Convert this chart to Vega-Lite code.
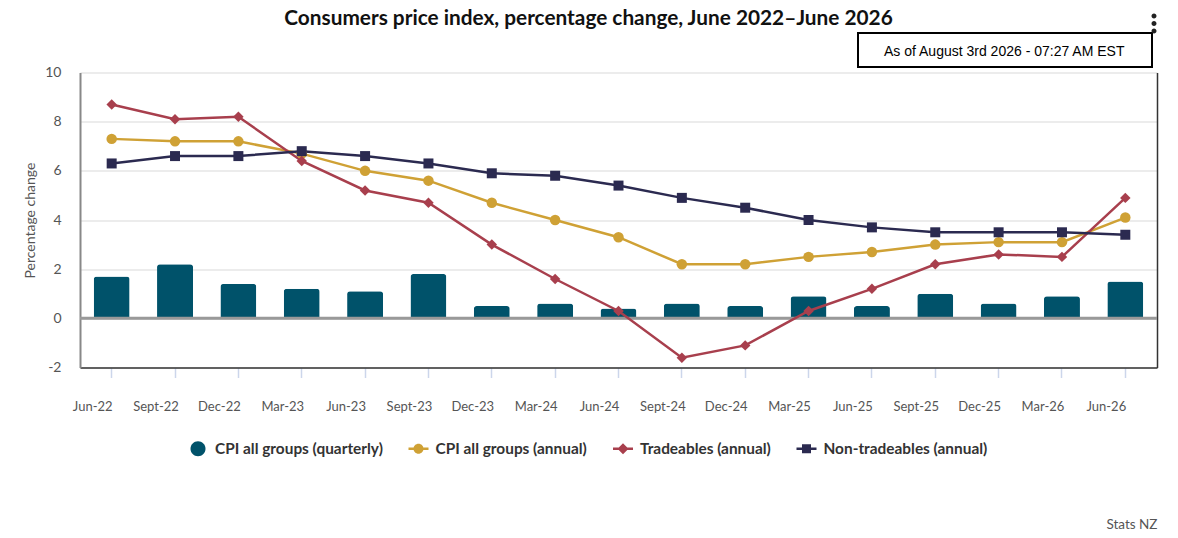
{
  "$schema": "https://vega.github.io/schema/vega-lite/v6.json",
  "width": 1077,
  "height": 295,
  "autosize": {"type": "none"},
  "padding": {"left": 80, "top": 72.5, "right": 21, "bottom": 170.5},
  "background": "white",
  "title": {
    "text": "Consumers price index, percentage change, June 2022–June 2026",
    "font": "Lato",
    "fontSize": 20.8,
    "fontWeight": "bold",
    "color": "#111111",
    "anchor": "middle",
    "frame": "group",
    "dx": -30,
    "offset": 0,
    "dy": 11
  },
  "config": {
    "view": {"stroke": null},
    "font": "Lato",
    "legend": {"strokeWidth": 2}
  },
  "datasets": {
    "cpi": [
      {"quarter": "Jun-22", "series": "CPI all groups (quarterly)", "value": 1.7},
      {"quarter": "Sept-22", "series": "CPI all groups (quarterly)", "value": 2.2},
      {"quarter": "Dec-22", "series": "CPI all groups (quarterly)", "value": 1.4},
      {"quarter": "Mar-23", "series": "CPI all groups (quarterly)", "value": 1.2},
      {"quarter": "Jun-23", "series": "CPI all groups (quarterly)", "value": 1.1},
      {"quarter": "Sept-23", "series": "CPI all groups (quarterly)", "value": 1.8},
      {"quarter": "Dec-23", "series": "CPI all groups (quarterly)", "value": 0.5},
      {"quarter": "Mar-24", "series": "CPI all groups (quarterly)", "value": 0.6},
      {"quarter": "Jun-24", "series": "CPI all groups (quarterly)", "value": 0.4},
      {"quarter": "Sept-24", "series": "CPI all groups (quarterly)", "value": 0.6},
      {"quarter": "Dec-24", "series": "CPI all groups (quarterly)", "value": 0.5},
      {"quarter": "Mar-25", "series": "CPI all groups (quarterly)", "value": 0.9},
      {"quarter": "Jun-25", "series": "CPI all groups (quarterly)", "value": 0.5},
      {"quarter": "Sept-25", "series": "CPI all groups (quarterly)", "value": 1.0},
      {"quarter": "Dec-25", "series": "CPI all groups (quarterly)", "value": 0.6},
      {"quarter": "Mar-26", "series": "CPI all groups (quarterly)", "value": 0.9},
      {"quarter": "Jun-26", "series": "CPI all groups (quarterly)", "value": 1.5},
      {"quarter": "Jun-22", "series": "CPI all groups (annual)", "value": 7.3},
      {"quarter": "Sept-22", "series": "CPI all groups (annual)", "value": 7.2},
      {"quarter": "Dec-22", "series": "CPI all groups (annual)", "value": 7.2},
      {"quarter": "Mar-23", "series": "CPI all groups (annual)", "value": 6.7},
      {"quarter": "Jun-23", "series": "CPI all groups (annual)", "value": 6.0},
      {"quarter": "Sept-23", "series": "CPI all groups (annual)", "value": 5.6},
      {"quarter": "Dec-23", "series": "CPI all groups (annual)", "value": 4.7},
      {"quarter": "Mar-24", "series": "CPI all groups (annual)", "value": 4.0},
      {"quarter": "Jun-24", "series": "CPI all groups (annual)", "value": 3.3},
      {"quarter": "Sept-24", "series": "CPI all groups (annual)", "value": 2.2},
      {"quarter": "Dec-24", "series": "CPI all groups (annual)", "value": 2.2},
      {"quarter": "Mar-25", "series": "CPI all groups (annual)", "value": 2.5},
      {"quarter": "Jun-25", "series": "CPI all groups (annual)", "value": 2.7},
      {"quarter": "Sept-25", "series": "CPI all groups (annual)", "value": 3.0},
      {"quarter": "Dec-25", "series": "CPI all groups (annual)", "value": 3.1},
      {"quarter": "Mar-26", "series": "CPI all groups (annual)", "value": 3.1},
      {"quarter": "Jun-26", "series": "CPI all groups (annual)", "value": 4.1},
      {"quarter": "Jun-22", "series": "Tradeables (annual)", "value": 8.7},
      {"quarter": "Sept-22", "series": "Tradeables (annual)", "value": 8.1},
      {"quarter": "Dec-22", "series": "Tradeables (annual)", "value": 8.2},
      {"quarter": "Mar-23", "series": "Tradeables (annual)", "value": 6.4},
      {"quarter": "Jun-23", "series": "Tradeables (annual)", "value": 5.2},
      {"quarter": "Sept-23", "series": "Tradeables (annual)", "value": 4.7},
      {"quarter": "Dec-23", "series": "Tradeables (annual)", "value": 3.0},
      {"quarter": "Mar-24", "series": "Tradeables (annual)", "value": 1.6},
      {"quarter": "Jun-24", "series": "Tradeables (annual)", "value": 0.3},
      {"quarter": "Sept-24", "series": "Tradeables (annual)", "value": -1.6},
      {"quarter": "Dec-24", "series": "Tradeables (annual)", "value": -1.1},
      {"quarter": "Mar-25", "series": "Tradeables (annual)", "value": 0.3},
      {"quarter": "Jun-25", "series": "Tradeables (annual)", "value": 1.2},
      {"quarter": "Sept-25", "series": "Tradeables (annual)", "value": 2.2},
      {"quarter": "Dec-25", "series": "Tradeables (annual)", "value": 2.6},
      {"quarter": "Mar-26", "series": "Tradeables (annual)", "value": 2.5},
      {"quarter": "Jun-26", "series": "Tradeables (annual)", "value": 4.9},
      {"quarter": "Jun-22", "series": "Non-tradeables (annual)", "value": 6.3},
      {"quarter": "Sept-22", "series": "Non-tradeables (annual)", "value": 6.6},
      {"quarter": "Dec-22", "series": "Non-tradeables (annual)", "value": 6.6},
      {"quarter": "Mar-23", "series": "Non-tradeables (annual)", "value": 6.8},
      {"quarter": "Jun-23", "series": "Non-tradeables (annual)", "value": 6.6},
      {"quarter": "Sept-23", "series": "Non-tradeables (annual)", "value": 6.3},
      {"quarter": "Dec-23", "series": "Non-tradeables (annual)", "value": 5.9},
      {"quarter": "Mar-24", "series": "Non-tradeables (annual)", "value": 5.8},
      {"quarter": "Jun-24", "series": "Non-tradeables (annual)", "value": 5.4},
      {"quarter": "Sept-24", "series": "Non-tradeables (annual)", "value": 4.9},
      {"quarter": "Dec-24", "series": "Non-tradeables (annual)", "value": 4.5},
      {"quarter": "Mar-25", "series": "Non-tradeables (annual)", "value": 4.0},
      {"quarter": "Jun-25", "series": "Non-tradeables (annual)", "value": 3.7},
      {"quarter": "Sept-25", "series": "Non-tradeables (annual)", "value": 3.5},
      {"quarter": "Dec-25", "series": "Non-tradeables (annual)", "value": 3.5},
      {"quarter": "Mar-26", "series": "Non-tradeables (annual)", "value": 3.5},
      {"quarter": "Jun-26", "series": "Non-tradeables (annual)", "value": 3.4}
    ]
  },
  "resolve": {"scale": {"y": "independent"}},
  "layer": [
    {
      "layer": [
        {
          "data": {"name": "cpi"},
          "transform": [{"filter": "datum.series === 'CPI all groups (quarterly)'"}],
          "mark": {"type": "bar", "width": 36, "cornerRadiusTopLeft": 3, "cornerRadiusTopRight": 3, "fill": "#00526A"},
          "encoding": {
            "x": {
              "field": "quarter",
              "type": "nominal",
              "sort": null,
              "scale": {"paddingInner": 0, "paddingOuter": 0},
              "axis": {
                "title": "Stats NZ",
                "titleX": 1077,
                "titleY": 150,
                "titleAlign": "right",
                "titleFont": "Lato",
                "titleFontSize": 13.5,
                "titleFontWeight": "normal",
                "titleColor": "#555555",
                "labelAngle": 0,
                "labelOffset": -19,
                "labelPadding": 23,
                "labelFont": "Lato",
                "labelFontSize": 13,
                "labelColor": "#555555",
                "tickColor": "#CCD6EB",
                "tickSize": 10,
                "tickWidth": 1.5,
                "domainColor": "#333333",
                "domainWidth": 1.5,
                "grid": false
              }
            },
            "y": {
              "field": "value",
              "type": "quantitative",
              "scale": {"domain": [-2, 10]},
              "axis": {
                "title": "Percentage change",
                "titleFont": "Lato",
                "titleFontSize": 14,
                "titleFontWeight": "normal",
                "titleColor": "#555555",
                "titlePadding": 7,
                "values": [-2, 0, 2, 4, 6, 8, 10],
                "labelExpr": "'' + datum.value",
                "labelFont": "Lato",
                "labelFontSize": 14,
                "labelColor": "#555555",
                "labelPadding": 19,
                "ticks": false,
                "domainColor": "#888888",
                "domainWidth": 2,
                "grid": true,
                "gridColor": "#E6E6E6",
                "gridWidth": 1.5
              }
            }
          }
        },
        {
          "data": {"values": [{}]},
          "mark": {"type": "rule", "color": "#999999", "strokeWidth": 3},
          "encoding": {"y": {"datum": 0, "type": "quantitative"}}
        },
        {
          "data": {"name": "cpi"},
          "transform": [{"filter": "datum.series !== 'CPI all groups (quarterly)'"}],
          "mark": {"type": "line", "strokeWidth": 2.5},
          "encoding": {
            "x": {"field": "quarter", "type": "nominal", "sort": null},
            "y": {"field": "value", "type": "quantitative"},
            "color": {
              "field": "series",
              "type": "nominal",
              "scale": {
                "domain": ["CPI all groups (annual)", "Tradeables (annual)", "Non-tradeables (annual)"],
                "range": ["#CFA135", "#A83F4D", "#2B2A50"]
              },
              "legend": null
            }
          }
        },
        {
          "data": {"name": "cpi"},
          "transform": [{"filter": "datum.series === 'CPI all groups (annual)'"}],
          "mark": {"type": "point", "shape": "circle", "filled": true, "opacity": 1, "size": 110},
          "encoding": {
            "x": {"field": "quarter", "type": "nominal", "sort": null},
            "y": {"field": "value", "type": "quantitative"},
            "color": {"field": "series", "type": "nominal", "legend": null}
          }
        },
        {
          "data": {"name": "cpi"},
          "transform": [{"filter": "datum.series === 'Tradeables (annual)'"}],
          "mark": {"type": "point", "shape": "diamond", "filled": true, "opacity": 1, "size": 110},
          "encoding": {
            "x": {"field": "quarter", "type": "nominal", "sort": null},
            "y": {"field": "value", "type": "quantitative"},
            "color": {"field": "series", "type": "nominal", "legend": null}
          }
        },
        {
          "data": {"name": "cpi"},
          "transform": [{"filter": "datum.series === 'Non-tradeables (annual)'"}],
          "mark": {"type": "point", "shape": "square", "filled": true, "opacity": 1, "size": 100},
          "encoding": {
            "x": {"field": "quarter", "type": "nominal", "sort": null},
            "y": {"field": "value", "type": "quantitative"},
            "color": {"field": "series", "type": "nominal", "legend": null}
          }
        },
        {
          "data": {"name": "cpi"},
          "mark": {"type": "point", "filled": true, "opacity": 0},
          "encoding": {
            "x": {"field": "quarter", "type": "nominal", "sort": null},
            "y": {"field": "value", "type": "quantitative"},
            "fill": {
              "field": "series",
              "type": "nominal",
              "scale": {
                "domain": ["CPI all groups (quarterly)", "CPI all groups (annual)", "Tradeables (annual)", "Non-tradeables (annual)"],
                "range": ["#00526A", "#CFA135", "#A83F4D", "#2B2A50"]
              },
              "legend": {
                "title": null,
                "orient": "none",
                "legendX": 108,
                "legendY": 366,
                "padding": 0,
                "direction": "horizontal",
                "columns": 4,
                "columnPadding": 25.5,
                "symbolSize": 400,
                "symbolOpacity": 1,
                "symbolStrokeWidth": 0,
                "labelOffset": 7,
                "labelFont": "Lato",
                "labelFontSize": 15.4,
                "labelFontWeight": "bold",
                "labelColor": "#333333",
                "labelLimit": 300
              }
            },
            "shape": {
              "field": "series",
              "type": "nominal",
              "scale": {
                "domain": ["CPI all groups (quarterly)", "CPI all groups (annual)", "Tradeables (annual)", "Non-tradeables (annual)"],
                "range": [
                  "M-0.75,0A0.75,0.75 0 1,1 0.75,0A0.75,0.75 0 1,1 -0.75,0Z",
                  "M-1,-0.12H1V0.12H-1ZM-0.5,0A0.5,0.5 0 1,1 0.5,0A0.5,0.5 0 1,1 -0.5,0Z",
                  "M-1,-0.12H1V0.12H-1ZM0,-0.55L0.55,0L0,0.55L-0.55,0Z",
                  "M-1,-0.12H1V0.12H-1ZM-0.45,-0.45H0.45V0.45H-0.45Z"
                ]
              },
              "legend": {
                "title": null,
                "orient": "none",
                "legendX": 108,
                "legendY": 366,
                "padding": 0,
                "direction": "horizontal",
                "columns": 4,
                "columnPadding": 25.5,
                "symbolSize": 400,
                "symbolOpacity": 1,
                "symbolStrokeWidth": 0,
                "labelOffset": 7,
                "labelFont": "Lato",
                "labelFontSize": 15.4,
                "labelFontWeight": "bold",
                "labelColor": "#333333",
                "labelLimit": 300
              }
            }
          }
        },
        {
          "data": {"values": [{"note": "As of August 3rd 2026 - 07:27 AM EST"}]},
          "mark": {"type": "point", "opacity": 0},
          "encoding": {
            "strokeDash": {
              "field": "note",
              "type": "nominal",
              "legend": {
                "title": null,
                "orient": "none",
                "legendX": 778,
                "legendY": -39.5,
                "padding": 0,
                "strokeColor": "#000000",
                "fillColor": "#FFFFFF",
                "symbolSize": 1296,
                "symbolOpacity": 0,
                "symbolType": "M-1,-1H15.27V0.778H-1Z",
                "labelOffset": -12,
                "labelFont": "Liberation Sans",
                "labelFontSize": 14,
                "labelColor": "#000000",
                "labelLimit": 300
              }
            }
          }
        },
        {
          "data": {"values": [{"menu": "Chart menu"}]},
          "mark": {"type": "point", "filled": true, "fill": "#222222", "opacity": 0},
          "encoding": {
            "stroke": {
              "field": "menu",
              "type": "nominal",
              "legend": {
                "title": null,
                "orient": "none",
                "legendX": 1069,
                "legendY": -54,
                "padding": 0,
                "symbolSize": 100,
                "symbolOpacity": 1,
                "symbolStrokeWidth": 0,
                "symbolType": "M-0.5,-1.5A0.5,0.5 0 1,1 0.5,-1.5A0.5,0.5 0 1,1 -0.5,-1.5ZM-0.5,0A0.5,0.5 0 1,1 0.5,0A0.5,0.5 0 1,1 -0.5,0ZM-0.5,1.5A0.5,0.5 0 1,1 0.5,1.5A0.5,0.5 0 1,1 -0.5,1.5Z",
                "labelExpr": "''"
              }
            }
          }
        }
      ]
    },
    {
      "data": {"values": [{}]},
      "mark": {"type": "point", "opacity": 0},
      "encoding": {
        "y": {
          "datum": 0,
          "type": "quantitative",
          "scale": {"domain": [-2, 10]},
          "axis": {
            "orient": "right",
            "title": null,
            "labels": false,
            "ticks": false,
            "grid": false,
            "domainColor": "#333333",
            "domainWidth": 1.5
          }
        }
      }
    }
  ]
}
